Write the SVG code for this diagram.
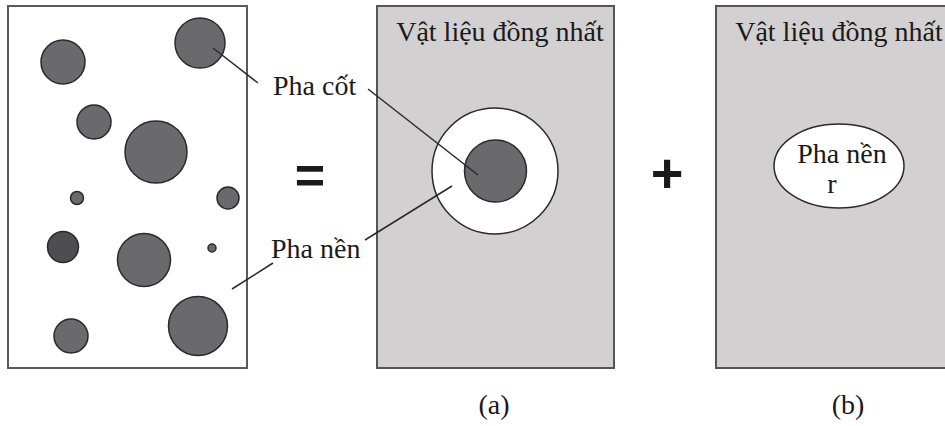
<svg xmlns="http://www.w3.org/2000/svg" width="945" height="426" viewBox="0 0 945 426">
<style>
.box{fill:#ffffff;stroke:#5a5a5a;stroke-width:2}
.gbox{fill:#d3d0d2;stroke:#555555;stroke-width:2}
.p{fill:#6a6a6c;stroke:#2a2a2a;stroke-width:1.5}
.pd{fill:#4e4e50;stroke:#2a2a2a;stroke-width:1.5}
.w{fill:#ffffff;stroke:#2a2a2a;stroke-width:1.5}
.t{font-family:"Liberation Serif","Times New Roman",serif;font-size:28px;fill:#1a1a1a}
.op{font-family:"Liberation Sans",Arial,sans-serif;font-weight:bold;fill:#1a1a1a}
.ln{stroke:#2a2a2a;stroke-width:1.5;fill:none}
</style>
<rect width="945" height="426" fill="#ffffff"/>
<g id="composite">
<rect class="box" x="8" y="6" width="239" height="362"/>
<circle class="p" cx="200" cy="43" r="25"/>
<circle class="p" cx="63" cy="62" r="22"/>
<circle class="p" cx="94" cy="122" r="17"/>
<circle class="p" cx="156" cy="152" r="31"/>
<circle class="p" cx="77" cy="198" r="6.5"/>
<circle class="p" cx="228" cy="198" r="11"/>
<circle class="pd" cx="63" cy="247" r="15.5"/>
<circle class="p" cx="144" cy="260" r="26.5"/>
<circle class="p" cx="212" cy="248" r="4"/>
<circle class="p" cx="71" cy="336" r="17"/>
<circle class="p" cx="198" cy="326" r="29.5"/>
</g>
<g id="label-pha-cot"><text class="t" x="273" y="95">Pha cốt</text></g>
<g id="label-pha-nen"><text class="t" x="271" y="258">Pha nền</text></g>
<g id="equals"><text class="op" x="310" y="193" font-size="52" text-anchor="middle">=</text></g>
<g id="panel-a">
<rect class="gbox" x="377" y="6" width="237" height="362"/>
<text class="t" x="500" y="41" text-anchor="middle">Vật liệu đồng nhất</text>
<circle class="w" cx="495" cy="171" r="63"/>
<circle class="p" cx="495.5" cy="171" r="31"/>
</g>
<g id="caption-a"><text class="t" x="494" y="414" text-anchor="middle" font-size="33">(a)</text></g>
<g id="plus"><text class="op" x="667" y="192" font-size="56" text-anchor="middle">+</text></g>
<g id="panel-b">
<rect class="gbox" x="716" y="6" width="240" height="362"/>
<text class="t" x="839" y="41" text-anchor="middle">Vật liệu đồng nhất</text>
<ellipse class="w" cx="839" cy="166" rx="65" ry="42"/>
<text class="t" x="842" y="163" text-anchor="middle">Pha nền</text>
<text class="t" x="832" y="193" text-anchor="middle">r</text>
</g>
<g id="caption-b"><text class="t" x="848" y="414" text-anchor="middle" font-size="33">(b)</text></g>
<g id="connectors">
<line class="ln" x1="213" y1="48" x2="258" y2="83"/>
<line class="ln" x1="368" y1="89" x2="478" y2="175"/>
<line class="ln" x1="232" y1="289" x2="273" y2="263"/>
<line class="ln" x1="365" y1="240" x2="452" y2="186"/>
</g>
</svg>
